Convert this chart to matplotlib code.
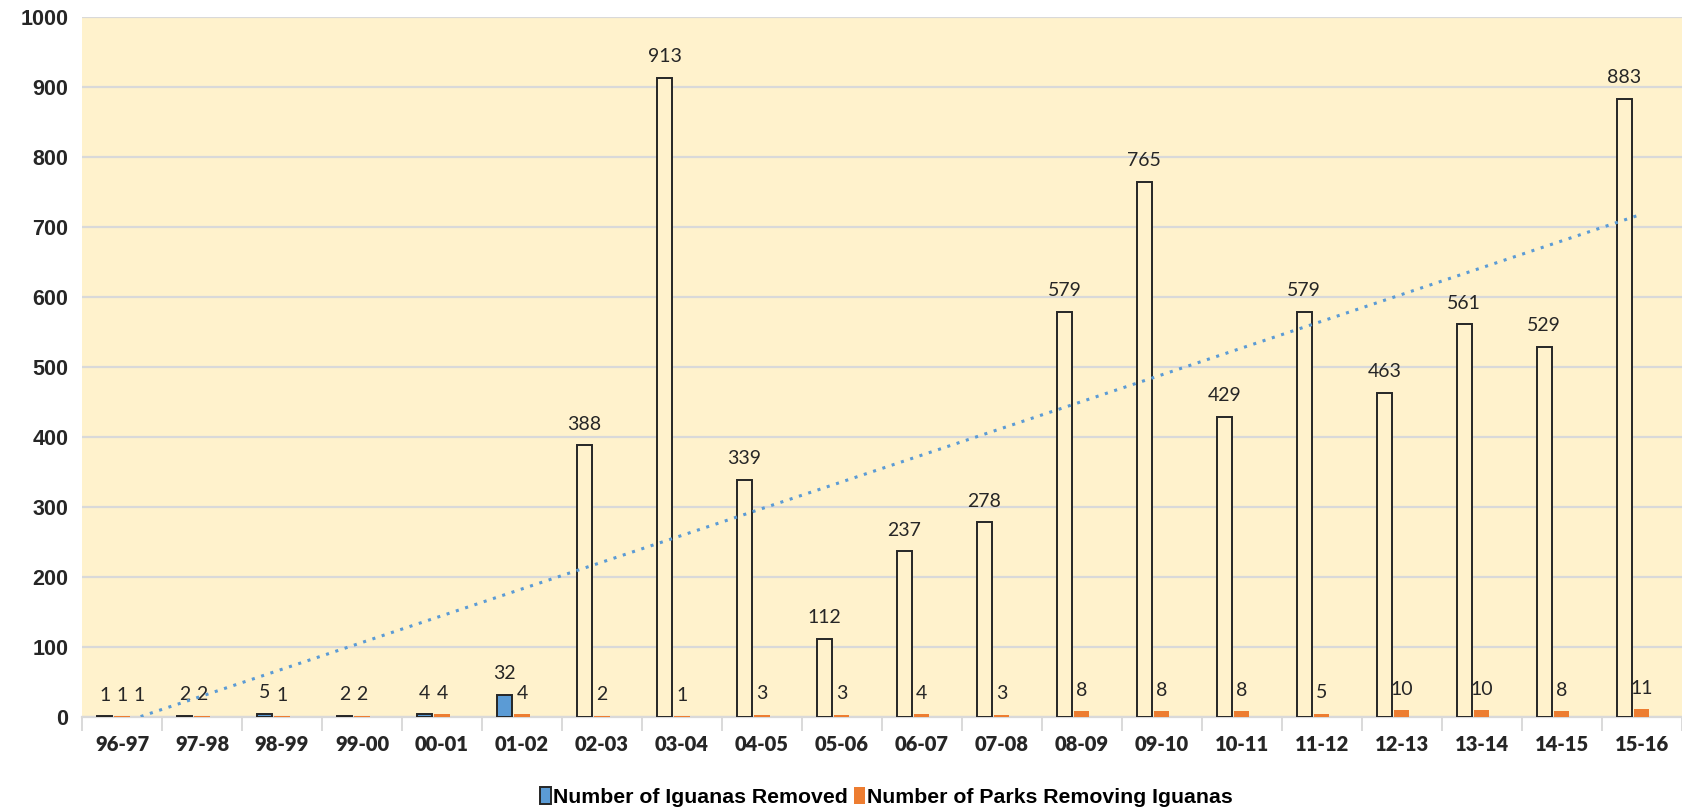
import matplotlib.pyplot as plt
from matplotlib.patches import Patch
import numpy as np

seasons = ["96-97", "97-98", "98-99", "99-00", "00-01", "01-02", "02-03", "03-04",
           "04-05", "05-06", "06-07", "07-08", "08-09", "09-10", "10-11", "11-12",
           "12-13", "13-14", "14-15", "15-16"]
iguanas_removed = [1, 2, 5, 2, 4, 32, 388, 913, 339, 112, 237, 278, 579, 765,
                   429, 579, 463, 561, 529, 883]
parks_removing = [1, 2, 1, 2, 4, 4, 2, 1, 3, 3, 4, 3, 8, 8, 8, 5, 10, 10, 8, 11]
# third (unnamed) series, only labelled in the first season
extra_series = [1] + [None] * 19

bg = "#FFF2CC"
blue = "#5B9BD5"
orange = "#ED7D31"
# fill of the iguana bars: small ones filled, big ones hollow
iguana_fill = ["#A5A5A5"] + [blue] * 5 + [bg] * 14

fig = plt.figure(figsize=(16.82, 8.10), dpi=100)
ax = fig.add_axes([0.0488, 0.1148, 0.951, 0.8642])
ax.set_facecolor(bg)

x = np.arange(len(seasons))
w = 0.19
off = 0.218

ax.bar(x - off, iguanas_removed, w, color=iguana_fill, edgecolor="#262626",
       linewidth=1.4, zorder=3)
ax.bar(x, parks_removing, w, color=orange, edgecolor="none", zorder=3)

lab_kw = dict(textcoords="offset points", xytext=(0, 9), ha="center", va="bottom",
              fontsize=14, family="Lato", color="#262626")
for i in range(len(seasons)):
    ax.annotate(str(iguanas_removed[i]), (x[i] - off, iguanas_removed[i]), **lab_kw)
    ax.annotate(str(parks_removing[i]), (x[i], parks_removing[i]), **lab_kw)
    if extra_series[i] is not None:
        ax.annotate(str(extra_series[i]), (x[i] + off, extra_series[i]), **lab_kw)

# linear trendline on iguanas removed
k, b = np.polyfit(x, iguanas_removed, 1)
xt = np.linspace(x[0], x[-1], 200)
ax.plot(xt, k * xt + b, ls=(0, (1, 2.2)), color=blue, lw=2.2, zorder=4)

ax.set_xlim(-0.5, len(seasons) - 0.5)
ax.set_ylim(0, 1000)
ax.set_yticks(np.arange(0, 1001, 100))
ax.yaxis.grid(True, color="#D9D9D9", lw=1.6, zorder=0)
ax.set_axisbelow(True)

ax.set_xticks(x)
ax.set_xticklabels(seasons, fontsize=14.5, fontweight="heavy", family="Lato",
                   color="#262626")
ax.set_xticks(np.arange(-0.5, len(seasons)), minor=True)
ax.tick_params(axis="x", which="major", length=0, pad=13)
ax.tick_params(axis="x", which="minor", length=10, width=1.4, color="#D9D9D9")
ax.tick_params(axis="y", length=0, pad=10)
for t in ax.get_yticklabels():
    t.set_fontsize(15.5)
    t.set_fontweight("bold")
    t.set_family("Liberation Sans")
    t.set_color("#262626")

for s in ["top", "right", "left"]:
    ax.spines[s].set_visible(False)
ax.spines["bottom"].set_color("#D9D9D9")
ax.spines["bottom"].set_linewidth(1.6)

handles = [Patch(facecolor=blue, edgecolor="#262626", lw=1.4, label="Number of Iguanas Removed"),
           Patch(facecolor=orange, edgecolor="none", label="Number of Parks Removing Iguanas")]
fig.legend(handles=handles, loc="center", bbox_to_anchor=(0.527, 0.016), ncol=2,
           frameon=False, handlelength=0.55, handleheight=0.8, handletextpad=0.1,
           columnspacing=0.25,
           prop={"family": "Liberation Sans", "weight": "bold", "size": 15.3})

fig.savefig("out.png", dpi=100, facecolor="white")
